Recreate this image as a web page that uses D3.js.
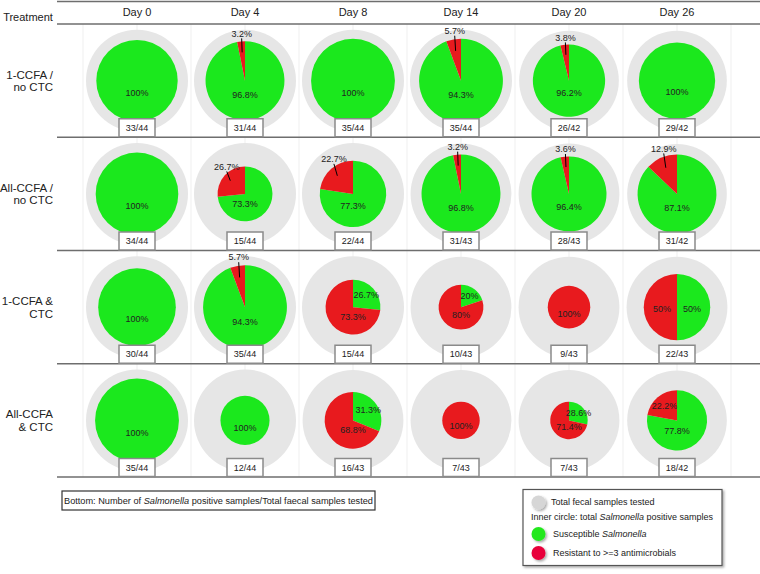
<!DOCTYPE html>
<html><head><meta charset="utf-8">
<script src="https://cdn.jsdelivr.net/npm/d3@7"></script>
<style>html,body{margin:0;padding:0;background:#fff;}svg{display:block;font-family:"Liberation Sans",Arial,Helvetica,sans-serif;}</style>
</head><body>
<svg id="chart" width="760" height="574"></svg>
<script>
const days = ["Day 0","Day 4","Day 8","Day 14","Day 20","Day 26"];
const treatments = [["1-CCFA /","no CTC"],["All-CCFA /","no CTC"],["1-CCFA &","CTC"],["All-CCFA","& CTC"]];
const positive = [[33,31,35,35,26,29],[34,15,22,31,28,31],[30,35,15,10,9,22],[35,12,16,7,7,18]];
const totals = [[44,44,44,44,42,42],[44,44,44,43,43,42],[44,44,44,43,43,43],[44,44,43,43,43,42]];
const susceptiblePct = [[100,96.8,100,94.3,96.2,100],[100,73.3,77.3,96.8,96.4,87.1],[100,94.3,26.7,20,0,50],[100,100,31.3,0,28.6,77.8]];
const resistantPct = [[0,3.2,0,5.7,3.8,0],[0,26.7,22.7,3.2,3.6,12.9],[0,5.7,73.3,80,100,50],[0,0,68.8,100,71.4,22.2]];

const GREEN = "#1be81d", RED = "#e81a1e", GRAY = "#e6e6e6";
const svg = d3.select("#chart");

const defs = svg.append("defs");
const f = defs.append("filter").attr("id","shadow").attr("x","-20%").attr("y","-20%").attr("width","150%").attr("height","150%");
f.append("feDropShadow").attr("dx",1.5).attr("dy",1.5).attr("stdDeviation",1.2).attr("flood-color","#000").attr("flood-opacity",0.35);

const rowIds = treatments.map((t,i)=>i);
const x = d3.scaleBand().domain(days).range([83,731]);
const y = d3.scaleBand().domain(rowIds).range([24,477]);
const rInner = d3.scaleSqrt().domain([0,44]).range([0,47]);
const rOuter = d3.scaleSqrt().domain([0,44]).range([0,51]);
const cx = d => x(d) + x.bandwidth()/2;
const cy = i => y(i) + y.bandwidth()/2;

// vertical faint grid lines
const vx = days.map(d=>x(d)).concat([x(days[days.length-1])+x.bandwidth()]).concat(days.map(cx));
svg.append("g").selectAll("line").data(vx).join("line")
  .attr("x1",d=>d).attr("x2",d=>d).attr("y1",24).attr("y2",477)
  .attr("stroke","#efefef").attr("stroke-width",1);

// horizontal lines
const hy = [1.5, 24].concat(rowIds.map(i=>y(i)+y.bandwidth()));
svg.append("g").selectAll("line").data(hy).join("line")
  .attr("x1",57).attr("x2",760).attr("y1",d=>d).attr("y2",d=>d)
  .attr("stroke","#6e6e6e").attr("stroke-width",1.4);

// headers
svg.append("text").attr("x",28).attr("y",17).attr("text-anchor","middle").attr("font-size",11).attr("dy","0.35em").attr("fill","#222").text("Treatment");
svg.append("g").selectAll("text").data(days).join("text")
  .attr("x",cx).attr("y",12).attr("dy","0.35em").attr("text-anchor","middle").attr("font-size",11).attr("fill","#222").text(d=>d);

// row labels
const rl = svg.append("g").selectAll("text").data(treatments).join("text")
  .attr("text-anchor","end").attr("font-size",11.5).attr("fill","#222");
rl.each(function(t,i){
  const s = d3.select(this);
  t.forEach((line,k)=>{
    s.append("tspan").attr("x",53).attr("y",cy(i)+(k===0?-6:6.5)).attr("dy","0.35em").text(line);
  });
});

const pie = d3.pie().sort(null).value(d=>d.v);
const arc = d3.arc().innerRadius(0);

rowIds.forEach(i=>{
  days.forEach((d,j)=>{
    const g = svg.append("g").attr("transform",`translate(${cx(d)},${cy(i)})`);
    const R = rOuter(totals[i][j]);
    const r = rInner(positive[i][j]);
    g.append("circle").attr("r",R).attr("fill",GRAY);
    const slices = [{v:susceptiblePct[i][j],c:GREEN,red:false},{v:resistantPct[i][j],c:RED,red:true}];
    const arcs = pie(slices).filter(a=>a.data.v>0);
    g.selectAll("path").data(arcs).join("path")
      .attr("d",a=>arc.outerRadius(r)(a)).attr("fill",a=>a.data.c);
    const noCTC = treatments[i][1].indexOf("no CTC")>=0;
    arcs.forEach(a=>{
      const frac = a.data.v/100;
      let mid = (a.startAngle+a.endAngle)/2;
      const label = a.data.v + "%";
      let tx, ty;
      if (arcs.length===1) {
        tx = 0; ty = 0.3*r;
      } else if (frac < 0.1 || (frac < 0.3 && a.data.red && noCTC)) {
        let m = mid > Math.PI ? mid - 2*Math.PI : mid;
        const m2 = m*0.7, dd = 1.2*r;
        tx = Math.sin(m2)*dd; ty = -Math.cos(m2)*dd;
        g.append("line").attr("x1",tx).attr("y1",ty+5)
          .attr("x2",Math.sin(m)*0.72*r).attr("y2",-Math.cos(m)*0.72*r)
          .attr("stroke","#000").attr("stroke-width",1);
      } else if (frac < 0.5) {
        tx = Math.sin(mid)*0.65*r; ty = -Math.cos(mid)*0.65*r;
      } else if (frac === 0.5) {
        tx = Math.sin(mid)*0.45*r; ty = -Math.cos(mid)*0.45*r + 2;
      } else {
        tx = 0; ty = 0.35*r;
      }
      g.append("text").attr("x",tx).attr("y",ty).attr("dy","0.35em").attr("text-anchor","middle")
        .attr("font-size",9).attr("fill","#222").text(label);
    });
    // count box
    const bottom = y(i)+y.bandwidth()-cy(i);
    g.append("rect").attr("x",-18).attr("y",bottom-18.5).attr("width",36).attr("height",18)
      .attr("fill","#fff").attr("stroke","#8a8a8a").attr("stroke-width",1.5);
    g.append("text").attr("x",0).attr("y",bottom-9.5).attr("dy","0.35em").attr("text-anchor","middle")
      .attr("font-size",9).attr("fill","#222").text(positive[i][j]+"/"+totals[i][j]);
  });
});

// bottom note
svg.append("rect").attr("x",62).attr("y",491).attr("width",313).attr("height",19)
  .attr("fill","#fff").attr("stroke","#333").attr("stroke-width",1.2);
const note = svg.append("text").attr("x",218.5).attr("y",500.5).attr("dy","0.35em").attr("text-anchor","middle").attr("font-size",9.2).attr("fill","#222");
note.append("tspan").text("Bottom: Number of ");
note.append("tspan").attr("font-style","italic").text("Salmonella");
note.append("tspan").text(" positive samples/Total faecal samples tested");

// legend
const lg = svg.append("g");
lg.append("rect").attr("x",523).attr("y",489.5).attr("width",199).attr("height",76)
  .attr("fill","#fff").attr("stroke","#555").attr("stroke-width",1.2).attr("filter","url(#shadow)");
const legendItems = [
  {c:"#d6d6d6", y:502, tx:551, parts:[["Total fecal samples tested",false]]},
  {c:null, y:516.5, tx:531, parts:[["Inner circle: total ",false],["Salmonella",true],[" positive samples",false]]},
  {c:"#22e81e", y:533.5, tx:553, parts:[["Susceptible ",false],["Salmonella",true]]},
  {c:"#e8003a", y:552.5, tx:553, parts:[["Resistant to >=3 antimicrobials",false]]}
];
legendItems.forEach(it=>{
  if (it.c) lg.append("circle").attr("cx",538.5).attr("cy",it.y+0.5).attr("r",7).attr("fill",it.c).attr("filter","url(#shadow)");
  const t = lg.append("text").attr("x",it.tx).attr("y",it.y).attr("dy","0.35em").attr("font-size",9).attr("fill","#222");
  it.parts.forEach(p=>t.append("tspan").attr("font-style",p[1]?"italic":null).text(p[0]));
});
</script>
</body></html>
